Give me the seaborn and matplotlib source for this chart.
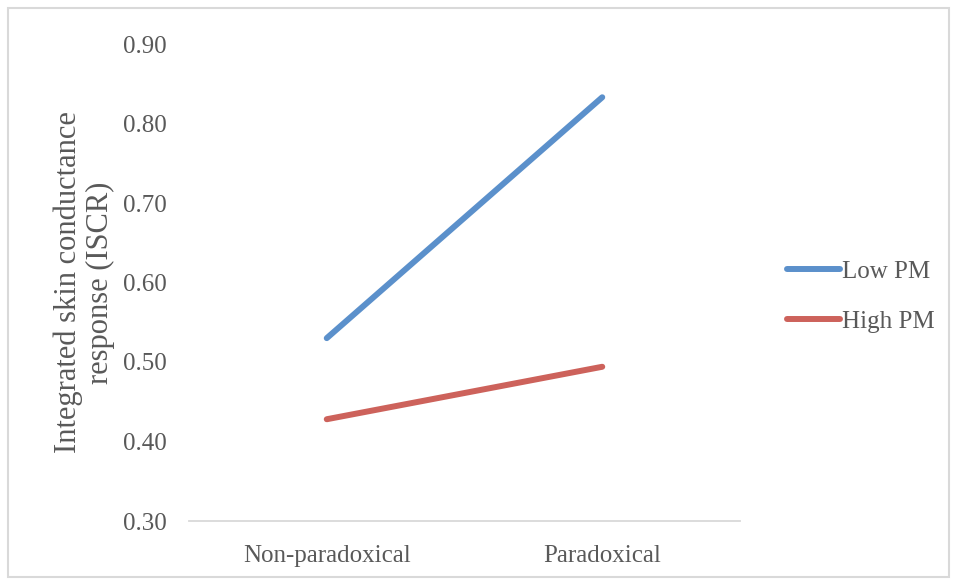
import matplotlib
matplotlib.use("Agg")
import matplotlib.pyplot as plt
import seaborn as sns
import pandas as pd
from matplotlib.patches import Rectangle

conditions = ["Non-paradoxical", "Paradoxical"]
low_pm = [0.530, 0.833]
high_pm = [0.428, 0.494]
series_names = ["Low PM", "High PM"]
y_ticks = [0.30, 0.40, 0.50, 0.60, 0.70, 0.80, 0.90]

df = pd.DataFrame({
    "condition": conditions * 2,
    "iscr": low_pm + high_pm,
    "group": [series_names[0]] * 2 + [series_names[1]] * 2,
})

sns.set_theme(style="white")
plt.rcParams["font.family"] = ["Liberation Serif", "DejaVu Serif"]
text_color = "#595959"

fig = plt.figure(figsize=(9.57, 5.81), dpi=100)
ax = fig.add_axes([189 / 957, 1 - 521 / 581, (740 - 189) / 957, (521 - 44) / 581])

palette = {"Low PM": "#5B90CB", "High PM": "#CD625B"}
sns.lineplot(data=df, x="condition", y="iscr", hue="group", palette=palette,
             linewidth=4.3, ax=ax, sort=False, solid_capstyle="round")

ax.set_xlim(-0.5, 1.5)
ax.set_ylim(0.30, 0.90)
ax.set_yticks(y_ticks)
ax.set_yticklabels([f"{v:.2f}" for v in y_ticks])
for s in ["top", "right", "left"]:
    ax.spines[s].set_visible(False)
ax.spines["bottom"].set_color("#D9D9D9")
ax.spines["bottom"].set_linewidth(1.3)
ax.tick_params(axis="both", length=0, labelsize=18, colors=text_color)
ax.tick_params(axis="y", pad=16)
ax.tick_params(axis="x", pad=17)
ax.set_xlabel("")
ax.set_ylabel("Integrated skin conductance\nresponse (ISCR)", fontsize=22,
              color=text_color, labelpad=6, linespacing=1.1)

leg = ax.legend(loc="center left", bbox_to_anchor=(1.045, 0.47), frameon=False,
                fontsize=18, handlelength=2.1, handletextpad=0.1, labelspacing=1.1)
for t in leg.get_texts():
    t.set_color(text_color)
for h in leg.get_lines():
    h.set_linewidth(4.3)

fig.patches.append(Rectangle((8 / 957, 4 / 581), 941 / 957, 569 / 581,
                             transform=fig.transFigure, fill=False,
                             edgecolor="#D9D9D9", linewidth=1.5))

fig.savefig("out.png", dpi=100)
